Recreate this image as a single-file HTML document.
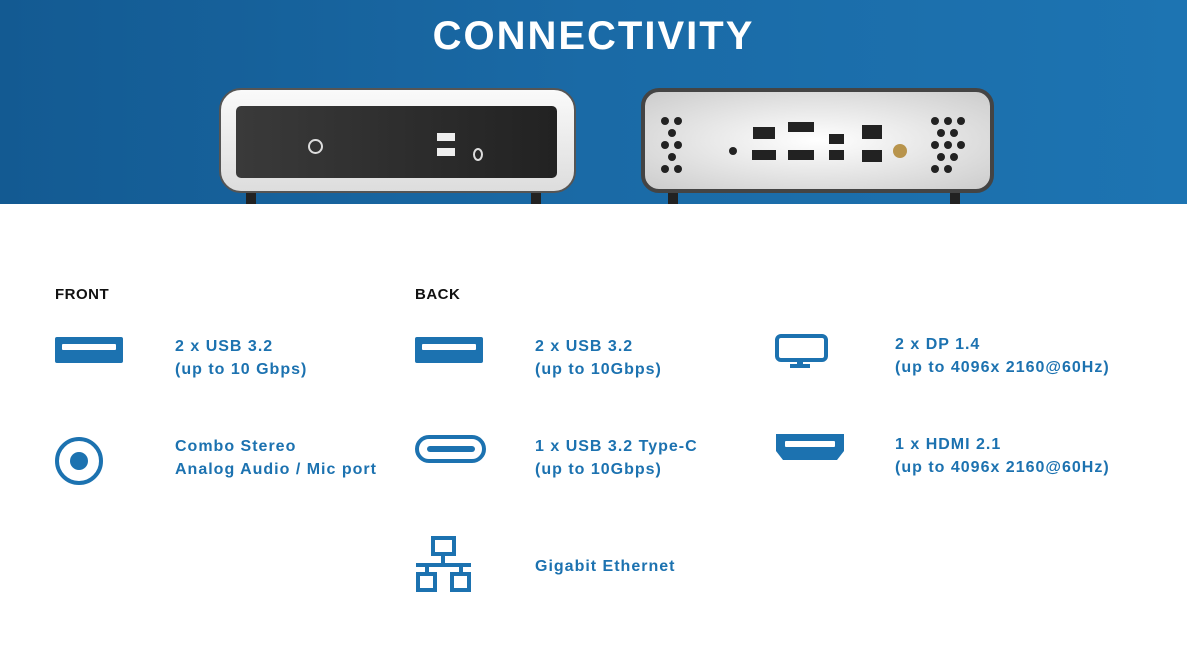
<!DOCTYPE html>
<html><head><style>
body{margin:0;width:1187px;height:648px;background:#fff;position:relative;overflow:hidden;font-family:"Liberation Sans",sans-serif}
.ban{position:absolute;left:0;top:0;width:1187px;height:204px;background:linear-gradient(90deg,#135a92,#1a6aa6 50%,#1d74b2)}
.t{position:absolute;left:0;width:1187px;top:14px;text-align:center;color:#fff;font-weight:bold;font-size:40px;letter-spacing:2px}
.h{position:absolute;font-weight:bold;font-size:15px;color:#111;letter-spacing:.5px}
.x{position:absolute;font-weight:bold;font-size:16px;color:#1c72b0;line-height:23px;letter-spacing:1px}
svg{position:absolute}
</style></head><body>
<div class="ban"></div>
<div class="t">CONNECTIVITY</div>
<div style="position:absolute;left:246px;top:188px;width:10px;height:16px;background:#222"></div>
<div style="position:absolute;left:531px;top:188px;width:10px;height:16px;background:#222"></div>
<div style="position:absolute;left:219px;top:88px;width:357px;height:105px;border-radius:22px;background:linear-gradient(#fafafa,#ddd);border:2px solid #555;box-sizing:border-box"></div>
<div style="position:absolute;left:236px;top:106px;width:321px;height:72px;border-radius:5px;background:linear-gradient(90deg,#3a3a3a,#222)"></div>
<div style="position:absolute;left:308px;top:139px;width:11px;height:11px;border-radius:50%;border:2px solid #ddd"></div>
<div style="position:absolute;left:437px;top:133px;width:18px;height:8px;background:#eee"></div>
<div style="position:absolute;left:437px;top:148px;width:18px;height:8px;background:#eee"></div>
<div style="position:absolute;left:473px;top:148px;width:6px;height:9px;border-radius:50%;border:2px solid #ddd"></div>
<div style="position:absolute;left:668px;top:188px;width:10px;height:16px;background:#222"></div>
<div style="position:absolute;left:950px;top:188px;width:10px;height:16px;background:#222"></div>
<div style="position:absolute;left:641px;top:88px;width:353px;height:105px;border-radius:18px;background:radial-gradient(#fff,#ccc);border:4px solid #444;box-sizing:border-box"></div>
<svg width="1187" height="204" style="left:0;top:0">
<g fill="#222">
<circle cx="665" cy="121" r="4"/><circle cx="678" cy="121" r="4"/><circle cx="672" cy="133" r="4"/><circle cx="665" cy="145" r="4"/><circle cx="678" cy="145" r="4"/><circle cx="672" cy="157" r="4"/><circle cx="665" cy="169" r="4"/><circle cx="678" cy="169" r="4"/>
<circle cx="935" cy="121" r="4"/><circle cx="948" cy="121" r="4"/><circle cx="961" cy="121" r="4"/><circle cx="941" cy="133" r="4"/><circle cx="954" cy="133" r="4"/><circle cx="935" cy="145" r="4"/><circle cx="948" cy="145" r="4"/><circle cx="961" cy="145" r="4"/><circle cx="941" cy="157" r="4"/><circle cx="954" cy="157" r="4"/><circle cx="935" cy="169" r="4"/><circle cx="948" cy="169" r="4"/>
<rect x="753" y="127" width="22" height="12"/><rect x="752" y="150" width="24" height="10"/><rect x="788" y="122" width="26" height="10"/><rect x="788" y="150" width="26" height="10"/><rect x="829" y="134" width="15" height="10"/><rect x="829" y="150" width="15" height="10"/><rect x="862" y="125" width="20" height="14"/><rect x="862" y="150" width="20" height="12"/><circle cx="733" cy="151" r="4"/>
</g>
<circle cx="900" cy="151" r="7" fill="#b8944c"/>
</svg>
<div class="h" style="left:55px;top:286px">FRONT</div>
<div class="h" style="left:415px;top:286px">BACK</div>
<svg width="1187" height="648" style="left:0;top:0">
<g fill="#1c72b0">
<rect x="55" y="337" width="68" height="26" rx="2"/>
<rect x="415" y="337" width="68" height="26" rx="2"/>
<path d="M776 434h68v17l-7 9h-54l-7-9z"/>
<rect x="790" y="364" width="20" height="4"/>
<rect x="797" y="358" width="6" height="7"/>
<circle cx="79" cy="461" r="9"/>
</g>
<g fill="#fff"><rect x="62" y="344" width="54" height="6" rx="1"/><rect x="422" y="344" width="54" height="6" rx="1"/><rect x="785" y="441" width="50" height="6" rx="1"/></g>
<g fill="none" stroke="#1c72b0" stroke-width="4">
<circle cx="79" cy="461" r="22"/>
<rect x="417" y="437" width="67" height="24" rx="12"/>
<rect x="777" y="336" width="49" height="24" rx="4"/>
<rect x="433" y="538" width="21" height="16"/>
<rect x="418" y="574" width="17" height="16"/>
<rect x="452" y="574" width="17" height="16"/>
<path d="M443 554v10M416 565h55M427 565v9M461 565v9"/>
</g>
<rect x="427" y="446" width="48" height="6" rx="3" fill="#1c72b0"/>
</svg>
<div class="x" style="left:175px;top:335px">2 x USB 3.2<br>(up to 10 Gbps)</div>
<div class="x" style="left:175px;top:435px">Combo Stereo<br>Analog Audio / Mic port</div>
<div class="x" style="left:535px;top:335px">2 x USB 3.2<br>(up to 10Gbps)</div>
<div class="x" style="left:535px;top:435px">1 x USB 3.2 Type-C<br>(up to 10Gbps)</div>
<div class="x" style="left:535px;top:555px">Gigabit Ethernet</div>
<div class="x" style="left:895px;top:333px">2 x DP 1.4<br>(up to 4096x 2160@60Hz)</div>
<div class="x" style="left:895px;top:433px">1 x HDMI 2.1<br>(up to 4096x 2160@60Hz)</div>
</body></html>
